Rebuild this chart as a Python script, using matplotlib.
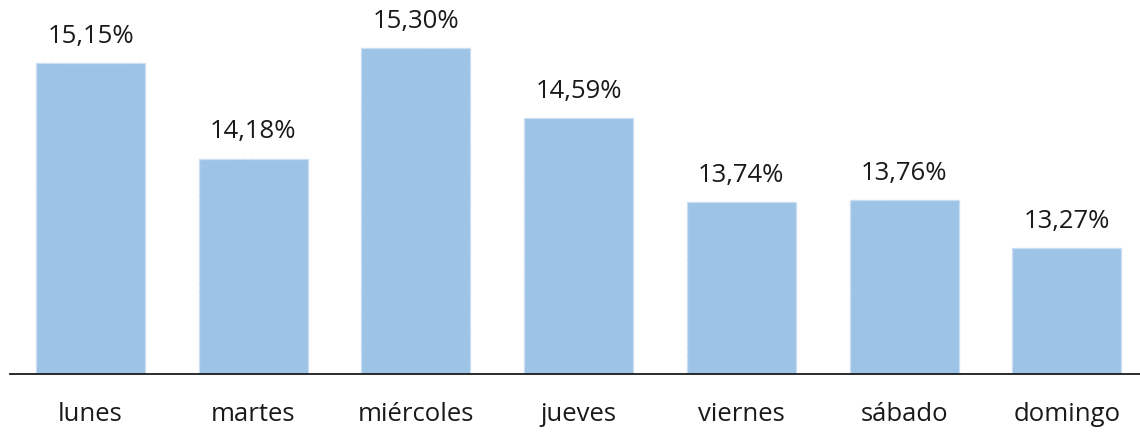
import matplotlib.pyplot as plt

plt.rcParams['font.family'] = ['Open Sans', 'DejaVu Sans']

# Datos
dias = ['lunes', 'martes', 'miércoles', 'jueves', 'viernes', 'sábado', 'domingo']
valores = [15.15, 14.18, 15.30, 14.59, 13.74, 13.76, 13.27]
etiquetas = ['15,15%', '14,18%', '15,30%', '14,59%', '13,74%', '13,76%', '13,27%']

fig = plt.figure(figsize=(11.4, 4.35), dpi=100)
ax = fig.add_axes([10 / 1140, (435 - 374.5) / 435, 1 - 10 / 1140, 374.5 / 435])

x = range(len(dias))
barras = ax.bar(x, valores, width=0.67, color='#9dc3e6', edgecolor='#c9def2',
                linewidth=1, linestyle='--', zorder=2)

for b, txt in zip(barras, etiquetas):
    ax.annotate(txt, (b.get_x() + b.get_width() / 2, b.get_height()),
                xytext=(0, 11), textcoords='offset points',
                ha='center', va='bottom', fontsize=18.5, color='#1a1a1a')

ax.set_ylim(12.0, 15.80)
ax.set_xlim(-0.495, 6.45)
ax.set_xticks(list(x))
ax.set_xticklabels(dias, fontsize=18.5, color='#1a1a1a')
ax.tick_params(axis='x', length=0, pad=20)
ax.set_yticks([])
for lado in ['top', 'right', 'left']:
    ax.spines[lado].set_visible(False)
ax.spines['bottom'].set_color('#1a1a1a')
ax.spines['bottom'].set_linewidth(1.3)
ax.spines['bottom'].set_zorder(3)

fig.savefig('out.png', dpi=100)
